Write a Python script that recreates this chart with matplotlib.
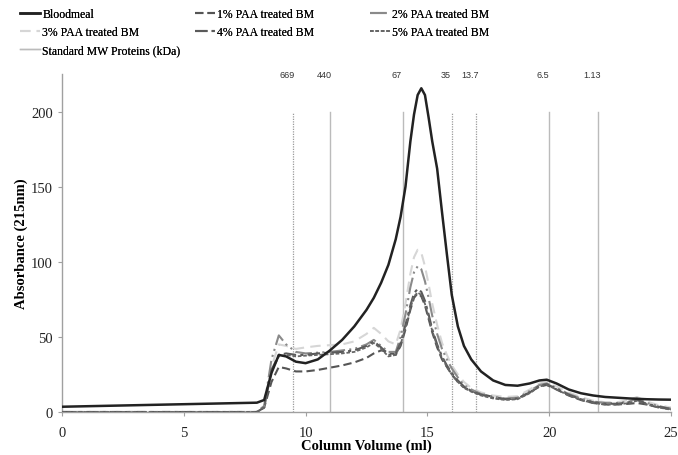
import matplotlib
matplotlib.use("Agg")
import matplotlib.pyplot as plt
from matplotlib.lines import Line2D

x = [0, 8, 8.3, 8.6, 8.9, 9.2, 9.6, 10, 10.5, 11, 11.5, 12, 12.5, 12.8, 13.1, 13.4, 13.7,
     13.9, 14.1, 14.3, 14.45, 14.6, 14.75, 14.9, 15.05, 15.2, 15.4, 15.6, 15.8, 16.0,
     16.25, 16.5, 16.8, 17.2, 17.7, 18.2, 18.7, 19.2, 19.6, 19.9, 20.3, 20.8, 21.3,
     21.8, 22.3, 22.8, 23.3, 23.6, 24, 24.5, 25]

bloodmeal = [3.5, 6.2, 8, 26, 38, 37, 33.5, 32.5, 35, 41, 48, 57, 68, 76, 86, 98, 115,
             130, 150, 180, 198, 211, 215.5, 211, 196, 180, 162, 133, 105, 78,
             57, 44, 35, 27, 21, 18, 17.5, 19, 21, 21.5, 19, 15, 12.5,
             11, 10, 9.5, 9, 8.8, 8.5, 8.3, 8.2]
paa1 = [0, 0, 3, 20, 30, 29, 27, 27, 28, 29.5, 31, 33, 36, 39, 41, 40, 38,
        44, 55, 68, 76, 79, 77, 71, 62, 53, 43, 35, 30, 25,
        20, 16.5, 14, 12, 10, 8.5, 9, 13, 17, 18, 15, 11, 8,
        6, 5, 5, 5.5, 6, 5, 3, 2]
paa2 = [0, 0, 4, 35, 51, 45, 40, 39, 39.5, 40, 41, 42, 45, 48, 44, 40, 40,
        50, 65, 83, 93, 97, 95, 87, 76, 64, 52, 42, 35, 29,
        23, 18, 15, 12, 10, 9, 9.5, 14, 18, 19, 16, 12, 9,
        7, 6, 6, 7, 9, 6, 4, 2]
paa3 = [0, 0, 4, 30, 45, 44, 42, 43, 44, 44.5, 45, 47, 52, 56, 52, 47, 45,
        55, 72, 92, 103, 108, 106, 97, 85, 72, 58, 46, 38, 31,
        25, 20, 16, 13, 11, 10, 10.5, 15, 19, 20, 17, 13, 10,
        7.5, 6.5, 6.5, 8, 10, 7, 4.5, 3]
paa4 = [0, 0, 3, 28, 38, 39, 38, 38, 39, 39.5, 40, 41, 44, 47, 43, 38, 39,
        46, 58, 71, 79, 82, 80, 74, 65, 55, 45, 37, 31, 26,
        21, 17, 14, 11.5, 9.5, 8.5, 9, 13, 17.5, 18.5, 15.5, 11.5, 8.5,
        6.5, 5.5, 5.5, 6.5, 8, 5.5, 3.5, 2]
paa5 = [0, 0, 3, 27, 37, 38, 37, 37.5, 38, 38.5, 39, 40, 43, 46, 42, 37, 38,
        45, 56, 69, 77, 79.5, 78, 72, 63, 54, 44, 36, 30, 25,
        20, 16, 13.5, 11, 9, 8, 8.5, 12.5, 17, 18, 15, 11, 8,
        6, 5, 5, 6, 7.5, 5, 3, 1.5]

std_positions = [9.5, 11, 14, 16, 17, 20, 22]
std_labels = ["669", "440", "67", "35", "13.7", "6.5", "1.13"]
std_dotted = [True, False, False, True, True, False, False]

fig = plt.figure(figsize=(6.78, 4.56), dpi=100)
ax = fig.add_axes([62/678, 1-413/456, (671-62)/678, (413-75)/456])

serif = "Liberation Serif"

for xv, dotted in zip(std_positions, std_dotted):
    if dotted:
        ax.plot([xv, xv], [0, 200], color="#9a9a9a", lw=0.9, ls=(0, (1, 1)), zorder=1)
    else:
        ax.plot([xv, xv], [0, 200], color="#bbbbbb", lw=1.0, zorder=1)

ax.plot(x, bloodmeal, color="#222222", lw=1.8, zorder=5)
ax.plot(x, paa1, color="#555555", lw=1.5, dashes=(4, 2), zorder=4)
ax.plot(x, paa2, color="#8a8a8a", lw=1.5, dashes=(8, 2, 1, 2, 1, 2), zorder=4)
ax.plot(x, paa3, color="#d6d6d6", lw=1.5, dashes=(5, 3), zorder=3)
ax.plot(x, paa4, color="#5a5a5a", lw=1.5, dashes=(6, 2, 1.5, 2), zorder=4)
ax.plot(x, paa5, color="#666666", lw=1.3, dashes=(2, 1), zorder=4)

for xv, lab in zip(std_positions, std_labels):
    ax.text(xv - 0.25, 225, lab, ha="center", va="center", fontsize=6.5,
            family="Liberation Sans", color="#333333", clip_on=False)

ax.set_xlim(0, 25)
ax.set_ylim(0, 225)
ax.set_xticks([0, 5, 10, 15, 20, 25])
ax.set_yticks([0, 50, 100, 150, 200])
for s in ["top", "right"]:
    ax.spines[s].set_visible(False)
for s in ["left", "bottom"]:
    ax.spines[s].set_color("#a0a0a0")
    ax.spines[s].set_linewidth(1.0)
ax.tick_params(colors="#a0a0a0", labelcolor="#222222", length=3, labelsize=10.5)
ax.tick_params(axis="x", pad=7)
for t in ax.get_xticklabels() + ax.get_yticklabels():
    t.set_family(serif)

ax.set_xlabel("Column Volume (ml)", family=serif, fontweight="bold", fontsize=10.5, labelpad=0)
ax.set_ylabel("Absorbance (215nm)", family=serif, fontweight="bold", fontsize=10.5, labelpad=2)

h_bm = Line2D([], [], color="#222222", lw=1.8)
h1 = Line2D([], [], color="#555555", lw=1.5, dashes=(4, 2))
h2 = Line2D([], [], color="#8a8a8a", lw=1.5, dashes=(8, 2, 1, 2, 1, 2))
h3 = Line2D([], [], color="#d6d6d6", lw=1.5, dashes=(5, 3))
h4 = Line2D([], [], color="#5a5a5a", lw=1.5, dashes=(6, 2, 1.5, 2))
h5 = Line2D([], [], color="#666666", lw=1.3, dashes=(2, 1))
hs = Line2D([], [], color="#bbbbbb", lw=1.0)

columns = [
    (20, [h_bm, h3, hs], ["Bloodmeal", "3% PAA treated BM", "Standard MW Proteins (kDa)"]),
    (195, [h1, h4], ["1% PAA treated BM", "4% PAA treated BM"]),
    (370, [h2, h5], ["2% PAA treated BM", "5% PAA treated BM"]),
]
for xpix, hands, labs in columns:
    leg = fig.legend(hands, labs, loc="upper left", bbox_to_anchor=(xpix/678, 1-9/456),
                     frameon=False, prop={"family": serif, "size": 8.5}, handlelength=1.7,
                     handletextpad=0.2, labelspacing=0.5, borderpad=0, borderaxespad=0)
    fig.add_artist(leg)

fig.savefig("out.png", dpi=100)
